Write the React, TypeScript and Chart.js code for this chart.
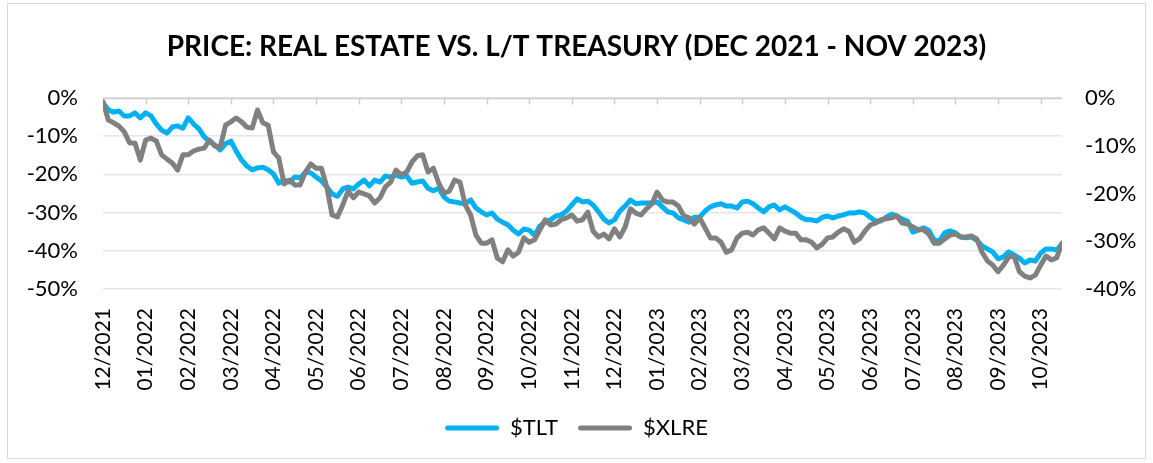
import { useEffect, useRef } from "react";
import { Chart, registerables } from "chart.js";

Chart.register(...registerables);

// Month tick labels (one every POINTS_PER_LABEL samples)
const MONTH_LABELS = [
  "12/2021", "01/2022", "02/2022", "03/2022", "04/2022", "05/2022", "06/2022",
  "07/2022", "08/2022", "09/2022", "10/2022", "11/2022", "12/2022", "01/2023",
  "02/2023", "03/2023", "04/2023", "05/2023", "06/2023", "07/2023", "08/2023",
  "09/2023", "10/2023",
];
const POINTS_PER_LABEL = 8;

// Cumulative price change, % (left axis)
const TLT = [
  -1.3, -3.1, -3.7, -3.4, -4.7, -4.7, -3.9, -5.2, -3.9, -4.7,
  -6.8, -8.4, -9.2, -7.6, -7.3, -7.9, -5.2, -6.8, -8.1, -10.2,
  -11.3, -12.3, -13.6, -12.0, -11.3, -13.9, -16.2, -17.8, -18.8, -18.3,
  -18.1, -18.8, -19.9, -22.3, -21.5, -22.0, -20.7, -20.9, -19.4, -19.6,
  -20.7, -21.7, -23.3, -25.1, -25.7, -23.8, -23.3, -23.8, -22.5, -21.5,
  -23.0, -21.5, -22.0, -20.4, -20.7, -20.2, -20.7, -20.4, -22.3, -22.0,
  -21.7, -23.6, -24.3, -23.6, -25.9, -27.0, -27.2, -27.5, -27.7, -26.7,
  -28.8, -29.8, -30.6, -30.1, -31.7, -32.5, -33.2, -34.6, -35.6, -34.3,
  -34.6, -35.9, -33.5, -32.5, -31.9, -30.9, -30.6, -29.6, -28.0, -26.4,
  -27.2, -27.0, -28.0, -29.8, -31.7, -32.7, -31.9, -29.6, -28.3, -26.7,
  -27.7, -27.5, -27.5, -27.5, -27.2, -28.5, -29.8, -30.1, -31.4, -31.9,
  -32.5, -31.2, -31.2, -29.6, -28.5, -28.0, -27.7, -28.3, -28.3, -28.8,
  -27.2, -27.0, -27.7, -28.8, -29.8, -28.5, -28.0, -29.3, -28.5, -29.3,
  -30.1, -31.2, -31.9, -31.9, -32.2, -31.2, -30.9, -31.4, -30.9, -30.6,
  -30.1, -30.1, -29.8, -30.1, -31.2, -32.2, -32.2, -31.2, -30.4, -30.9,
  -31.7, -32.2, -35.1, -34.6, -34.0, -34.6, -37.2, -37.4, -35.3, -34.8,
  -35.3, -36.4, -36.6, -36.4, -37.2, -38.7, -39.5, -40.3, -42.1, -41.6,
  -40.3, -41.1, -41.9, -43.2, -42.4, -42.7, -40.6, -39.5, -39.5, -39.8,
  -38.2,
];

// Cumulative price change, % (right axis)
const XLRE = [
  -0.8, -4.6, -5.2, -5.9, -7.1, -9.4, -9.4, -13.0, -8.8, -8.4,
  -9.0, -11.9, -12.8, -13.6, -15.1, -11.9, -11.9, -11.1, -10.7, -10.5,
  -8.8, -10.1, -10.3, -5.7, -5.0, -4.2, -5.0, -6.1, -6.3, -2.5,
  -5.2, -5.7, -11.3, -12.6, -18.0, -17.2, -18.2, -18.2, -15.5, -13.8,
  -14.7, -14.7, -18.6, -24.5, -24.9, -22.4, -19.5, -20.9, -19.7, -20.1,
  -20.5, -22.0, -20.9, -18.6, -17.6, -15.1, -16.1, -15.5, -13.4, -12.1,
  -11.9, -15.5, -14.7, -17.8, -19.9, -19.5, -17.2, -17.6, -22.4, -24.5,
  -28.7, -30.4, -30.4, -29.7, -33.5, -34.3, -31.8, -33.1, -32.3, -29.3,
  -30.2, -29.7, -27.6, -25.5, -26.6, -26.4, -25.5, -25.1, -24.5, -25.8,
  -25.5, -23.9, -27.9, -29.1, -28.5, -29.5, -27.4, -29.1, -27.0, -23.2,
  -24.1, -24.5, -23.2, -22.2, -19.7, -21.4, -21.8, -21.8, -22.6, -24.7,
  -25.1, -26.4, -25.1, -27.2, -29.3, -29.3, -30.2, -32.3, -31.8, -29.3,
  -28.3, -28.1, -28.7, -27.6, -27.2, -28.3, -29.5, -27.2, -27.9, -28.3,
  -28.3, -29.7, -29.7, -30.2, -31.4, -30.6, -29.3, -29.1, -28.1, -27.4,
  -27.9, -30.2, -29.5, -27.9, -26.6, -26.2, -25.5, -25.3, -25.1, -24.7,
  -26.2, -26.4, -27.0, -27.6, -27.6, -28.5, -30.4, -30.4, -29.5, -28.7,
  -28.5, -29.1, -29.1, -28.9, -29.5, -32.3, -34.1, -35.0, -36.4, -35.0,
  -33.3, -33.1, -36.4, -37.3, -37.7, -37.1, -35.0, -33.1, -33.9, -33.5,
  -30.4,
];

const LEFT_TICKS = [0, -10, -20, -30, -40, -50];
const RIGHT_TICKS = [0, -10, -20, -30, -40];

const TITLE = "PRICE: REAL ESTATE VS. L/T TREASURY (DEC 2021 - NOV 2023)";
const FONT = "Lato, 'Noto Sans', sans-serif";

const W = 1153;
const H = 463;

export default function App() {
  const ref = useRef<HTMLCanvasElement | null>(null);

  useEffect(() => {
    document.body.style.margin = "0";
    const canvas = ref.current;
    if (!canvas) return;

    const frame = {
      id: "frame",
      beforeDraw(chart: any) {
        const { ctx } = chart;
        ctx.save();
        ctx.fillStyle = "#ffffff";
        ctx.fillRect(0, 0, W, H);
        ctx.strokeStyle = "#d9d9d9";
        ctx.lineWidth = 1;
        ctx.strokeRect(7.5, 3.5, W - 15, H - 8);
        ctx.restore();
      },
    };

    const topAxis = {
      id: "topAxis",
      beforeDatasetsDraw(chart: any) {
        const { ctx, scales } = chart;
        const x = scales.x;
        const y = scales.y;
        const y0 = Math.round(y.getPixelForValue(0)) + 0.5;
        ctx.save();
        ctx.strokeStyle = "#d0d0d0";
        ctx.lineWidth = 1.5;
        ctx.beginPath();
        ctx.moveTo(x.left, y0);
        ctx.lineTo(x.right, y0);
        x.ticks.forEach((t: any) => {
          const px = Math.round(x.getPixelForValue(t.value)) + 0.5;
          ctx.moveTo(px, y0);
          ctx.lineTo(px, y0 + 6);
        });
        ctx.stroke();
        ctx.restore();
      },
    };

    const chart = new Chart(canvas, {
      type: "line",
      data: {
        datasets: [
          {
            label: "$TLT",
            data: TLT.map((v, i) => ({ x: i, y: v })),
            borderColor: "#00B0F0",
            backgroundColor: "#00B0F0",
            borderWidth: 5,
            pointRadius: 0,
            tension: 0,
            borderJoinStyle: "round",
            borderCapStyle: "round",
            yAxisID: "y",
            order: 1,
          },
          {
            label: "$XLRE",
            data: XLRE.map((v, i) => ({ x: i, y: v })),
            borderColor: "#808080",
            backgroundColor: "#808080",
            borderWidth: 5,
            pointRadius: 0,
            tension: 0,
            borderJoinStyle: "round",
            borderCapStyle: "round",
            yAxisID: "y1",
            order: 0,
          },
        ],
      },
      options: {
        animation: false,
        responsive: false,
        devicePixelRatio: 1,
        layout: { padding: { left: 0, right: 0, top: 0, bottom: 14 } },
        plugins: {
          tooltip: { enabled: false },
          title: {
            display: true,
            text: TITLE,
            color: "#000000",
            font: { family: FONT, size: 28, weight: "bold" },
            padding: { top: 30, bottom: 34.4 },
          },
          legend: {
            display: true,
            position: "bottom",
            labels: {
              color: "#000000",
              font: { family: FONT, size: 22 },
              boxWidth: 54,
              boxHeight: 5,
              padding: 20,
              sort: (a: any, b: any) => a.datasetIndex - b.datasetIndex,
              generateLabels: (chart: any) =>
                chart.data.datasets.map((d: any, i: number) => ({
                  text: d.label,
                  fillStyle: d.borderColor,
                  strokeStyle: d.borderColor,
                  lineWidth: 0,
                  borderRadius: 2.5,
                  datasetIndex: i,
                  hidden: false,
                  fontColor: "#000000",
                })),
            },
          },
        },
        scales: {
          x: {
            type: "linear",
            min: 0,
            max: TLT.length - 1,
            grid: { display: false },
            border: { display: false },
            afterBuildTicks: (scale: any) => {
              scale.ticks = MONTH_LABELS.map((_, i) => ({ value: i * POINTS_PER_LABEL }));
            },
            afterFit: (scale: any) => {
              scale.height = 108;
            },
            ticks: {
              autoSkip: false,
              maxRotation: 90,
              minRotation: 90,
              padding: 11,
              color: "#000000",
              font: { family: FONT, size: 21 },
              callback: (v: any) => MONTH_LABELS[Math.round(Number(v) / POINTS_PER_LABEL)] ?? "",
            },
          },
          y: {
            position: "left",
            min: -50,
            max: 0,
            grid: {
              color: "#e6e6e6",
              lineWidth: 1.5,
              drawTicks: false,
            },
            border: { display: false },
            afterBuildTicks: (scale: any) => {
              scale.ticks = LEFT_TICKS.map((v) => ({ value: v }));
            },
            afterFit: (scale: any) => {
              scale.width = 103;
            },
            ticks: {
              padding: 25,
              color: "#000000",
              font: { family: FONT, size: 22 },
              callback: (v: any) => `${v}%`,
            },
          },
          y1: {
            position: "right",
            min: -40,
            max: 0,
            grid: { display: false, drawTicks: false },
            border: { display: false },
            afterBuildTicks: (scale: any) => {
              scale.ticks = RIGHT_TICKS.map((v) => ({ value: v }));
            },
            afterFit: (scale: any) => {
              scale.width = 91;
            },
            ticks: {
              padding: 23,
              color: "#000000",
              font: { family: FONT, size: 22 },
              callback: (v: any) => `${v}%`,
            },
          },
        },
      },
      plugins: [frame, topAxis],
    } as any);

    return () => chart.destroy();
  }, []);

  return (
    <div style={{ width: W, height: H }}>
      <canvas ref={ref} width={W} height={H} style={{ display: "block", width: W, height: H }} />
    </div>
  );
}
